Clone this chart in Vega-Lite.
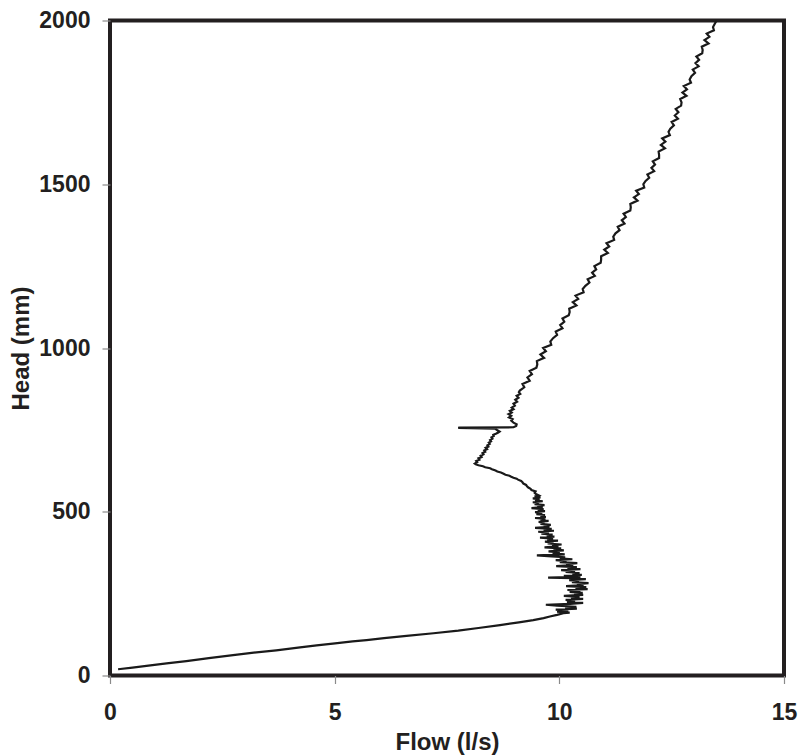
{
  "$schema": "https://vega.github.io/schema/vega-lite/v6.json",
  "width": 674,
  "height": 655,
  "autosize": {"type": "none"},
  "padding": {"left": 110, "top": 20.5, "right": 14, "bottom": 79.5},
  "background": "white",
  "config": {
    "view": {"stroke": "#231f20", "strokeWidth": 4},
    "font": "Liberation Sans",
    "axis": {
      "domain": false,
      "grid": false,
      "tickColor": "#8a8a8a",
      "tickWidth": 1.2,
      "tickSize": 8,
      "labelFont": "Liberation Sans",
      "labelFontWeight": "bold",
      "labelFontSize": 23,
      "labelColor": "#231f20",
      "titleFont": "Liberation Sans",
      "titleFontWeight": "bold",
      "titleFontSize": 24,
      "titleColor": "#231f20"
    }
  },
  "data": {
    "values": [
      {"f":0.18,"h":19},{"f":0.5,"h":24},{"f":0.9,"h":31},{"f":1.26,"h":37},{"f":1.7,"h":44},{"f":2.2,"h":53},{"f":2.74,"h":62},{"f":3.2,"h":70},{"f":3.7,"h":77},{"f":4.23,"h":86},{"f":4.6,"h":92},{"f":5.01,"h":98},{"f":5.4,"h":104},{"f":5.71,"h":108},{"f":6.1,"h":114},{"f":6.6,"h":121},{"f":7.2,"h":129},{"f":7.75,"h":137},{"f":8.2,"h":145},{"f":8.68,"h":154},{"f":9.1,"h":162},{"f":9.42,"h":169},{"f":9.65,"h":175},{"f":9.79,"h":180},{"f":9.95,"h":185},{"f":10.09,"h":190},
      {"f":10.23,"h":192},{"f":9.95,"h":195},{"f":10.2,"h":198},{"f":9.92,"h":201},{"f":10.39,"h":204},{"f":10.13,"h":207},{"f":10.38,"h":210},{"f":9.95,"h":213},{"f":9.7,"h":216},{"f":10.24,"h":219},{"f":10.53,"h":222},{"f":10.17,"h":225},{"f":10.35,"h":228},{"f":10.14,"h":231},{"f":10.53,"h":234},{"f":10.26,"h":237},{"f":10.45,"h":240},{"f":10.1,"h":243},{"f":10.53,"h":246},{"f":10.33,"h":249},{"f":10.52,"h":252},{"f":10.23,"h":255},{"f":10.47,"h":258},{"f":10.18,"h":261},{"f":10.63,"h":264},{"f":10.36,"h":267},{"f":10.6,"h":270},{"f":10.15,"h":273},{"f":10.54,"h":276},{"f":10.39,"h":279},{"f":10.65,"h":282},{"f":10.28,"h":285},{"f":10.44,"h":288},{"f":10.22,"h":291},{"f":10.59,"h":294},{"f":10.31,"h":297},{"f":9.75,"h":299},{"f":10.47,"h":301},{"f":10.1,"h":304},{"f":10.5,"h":307},{"f":10.29,"h":310},{"f":10.45,"h":313},{"f":10.14,"h":316},{"f":10.35,"h":319},{"f":10.04,"h":322},{"f":10.47,"h":325},{"f":10.18,"h":328},{"f":10.39,"h":331},{"f":9.93,"h":334},{"f":10.31,"h":337},{"f":10.15,"h":340},{"f":10.4,"h":343},{"f":10.01,"h":346},{"f":10.16,"h":349},{"f":9.92,"h":352},{"f":10.29,"h":355},{"f":10.01,"h":358},{"f":10.13,"h":361},{"f":9.83,"h":364},{"f":9.5,"h":367},{"f":10.12,"h":370},{"f":9.85,"h":373},{"f":10.01,"h":376},{"f":9.76,"h":379},{"f":10.1,"h":382},{"f":9.87,"h":385},{"f":10.04,"h":388},{"f":9.67,"h":391},{"f":9.98,"h":394},{"f":9.84,"h":397},{"f":10.05,"h":400},{"f":9.74,"h":403},{"f":9.87,"h":406},{"f":9.68,"h":409},{"f":9.97,"h":412},{"f":9.73,"h":415},{"f":9.86,"h":418},{"f":9.57,"h":421},{"f":9.89,"h":424},{"f":9.72,"h":427},{"f":9.85,"h":430},{"f":9.6,"h":433},{"f":9.77,"h":436},{"f":9.53,"h":439},{"f":9.88,"h":442},{"f":9.65,"h":445},{"f":9.83,"h":448},{"f":9.46,"h":451},{"f":9.78,"h":454},{"f":9.65,"h":457},{"f":9.81,"h":460},{"f":9.58,"h":463},{"f":9.67,"h":466},{"f":9.54,"h":469},{"f":9.76,"h":472},{"f":9.58,"h":475},{"f":9.69,"h":478},{"f":9.46,"h":481},{"f":9.7,"h":484},{"f":9.58,"h":487},{"f":9.68,"h":490},{"f":9.49,"h":493},{"f":9.62,"h":496},{"f":9.46,"h":499},{"f":9.68,"h":502},{"f":9.52,"h":505},{"f":9.65,"h":508},{"f":9.38,"h":511},{"f":9.63,"h":514},{"f":9.51,"h":517},{"f":9.67,"h":520},{"f":9.45,"h":523},{"f":9.54,"h":526},{"f":9.41,"h":529},{"f":9.63,"h":532},{"f":9.46,"h":535},{"f":9.56,"h":538},{"f":9.41,"h":541},{"f":9.58,"h":544},{"f":9.45,"h":547},{"f":9.54,"h":550},
      {"f":9.48,"h":554},{"f":9.45,"h":558},{"f":9.47,"h":562},{"f":9.38,"h":566},{"f":9.36,"h":570},{"f":9.31,"h":574},{"f":9.28,"h":578},{"f":9.26,"h":582},{"f":9.2,"h":586},{"f":9.18,"h":590},{"f":9.15,"h":594},{"f":9.08,"h":598},{"f":9.05,"h":601},{"f":8.98,"h":604},{"f":8.93,"h":607},{"f":8.89,"h":610},{"f":8.8,"h":613},{"f":8.76,"h":616},{"f":8.7,"h":620},{"f":8.62,"h":623},{"f":8.58,"h":626},{"f":8.5,"h":630},{"f":8.46,"h":633},{"f":8.35,"h":636},{"f":8.3,"h":639},{"f":8.2,"h":642},{"f":8.14,"h":645},{"f":8.12,"h":647},
      {"f":8.17,"h":651},{"f":8.15,"h":655},{"f":8.22,"h":659},{"f":8.2,"h":663},{"f":8.27,"h":667},{"f":8.25,"h":671},{"f":8.31,"h":675},{"f":8.29,"h":679},{"f":8.35,"h":683},{"f":8.33,"h":687},{"f":8.39,"h":691},{"f":8.36,"h":695},{"f":8.42,"h":699},{"f":8.4,"h":703},{"f":8.45,"h":707},{"f":8.43,"h":711},{"f":8.48,"h":715},{"f":8.46,"h":719},{"f":8.51,"h":723},{"f":8.49,"h":727},{"f":8.54,"h":731},{"f":8.53,"h":735},{"f":8.6,"h":739},{"f":8.64,"h":742},{"f":8.67,"h":745},{"f":8.63,"h":748},{"f":8.6,"h":751},{"f":8.57,"h":754},{"f":7.75,"h":756},{"f":7.78,"h":757},
      {"f":8.98,"h":758},{"f":9.04,"h":762},{"f":9.05,"h":767},{"f":8.98,"h":772},{"f":8.93,"h":778},{"f":8.96,"h":783},{"f":8.88,"h":788},{"f":8.93,"h":793},{"f":8.87,"h":798},{"f":8.94,"h":803},{"f":8.9,"h":808},{"f":8.98,"h":813},{"f":8.94,"h":818},{"f":9.01,"h":824},{"f":8.98,"h":830},{"f":9.06,"h":836},{"f":9.02,"h":842},{"f":9.09,"h":848},{"f":9.05,"h":854},{"f":9.13,"h":860},{"f":9.1,"h":865},
      {"f":9.12,"h":870},{"f":9.22,"h":880},{"f":9.18,"h":890},{"f":9.34,"h":900},{"f":9.29,"h":910},{"f":9.39,"h":920},{"f":9.34,"h":930},{"f":9.49,"h":940},{"f":9.51,"h":950},{"f":9.5,"h":960},{"f":9.66,"h":970},{"f":9.58,"h":980},{"f":9.7,"h":990},{"f":9.64,"h":1000},{"f":9.82,"h":1010},{"f":9.8,"h":1020},{"f":9.86,"h":1030},{"f":9.95,"h":1040},{"f":9.92,"h":1050},{"f":10.07,"h":1060},{"f":10.02,"h":1070},{"f":10.11,"h":1080},{"f":10.07,"h":1090},{"f":10.21,"h":1100},{"f":10.23,"h":1110},{"f":10.22,"h":1120},{"f":10.38,"h":1130},{"f":10.3,"h":1140},{"f":10.42,"h":1150},{"f":10.36,"h":1160},{"f":10.54,"h":1170},{"f":10.52,"h":1180},{"f":10.58,"h":1190},{"f":10.67,"h":1200},{"f":10.63,"h":1210},{"f":10.79,"h":1220},{"f":10.73,"h":1230},{"f":10.82,"h":1240},{"f":10.78,"h":1250},{"f":10.92,"h":1260},{"f":10.93,"h":1270},{"f":10.93,"h":1280},{"f":11.08,"h":1290},{"f":11.0,"h":1300},{"f":11.11,"h":1310},{"f":11.05,"h":1320},{"f":11.22,"h":1330},{"f":11.2,"h":1340},{"f":11.25,"h":1350},{"f":11.34,"h":1360},{"f":11.3,"h":1370},{"f":11.45,"h":1380},{"f":11.39,"h":1390},{"f":11.48,"h":1400},{"f":11.43,"h":1410},{"f":11.58,"h":1420},{"f":11.59,"h":1430},{"f":11.58,"h":1440},{"f":11.74,"h":1450},{"f":11.66,"h":1460},{"f":11.77,"h":1470},{"f":11.71,"h":1480},{"f":11.89,"h":1490},{"f":11.87,"h":1500},{"f":11.92,"h":1510},{"f":12.0,"h":1520},{"f":11.96,"h":1530},{"f":12.11,"h":1540},{"f":12.05,"h":1550},{"f":12.13,"h":1560},{"f":12.08,"h":1570},{"f":12.22,"h":1580},{"f":12.22,"h":1590},{"f":12.21,"h":1600},{"f":12.35,"h":1610},{"f":12.26,"h":1620},{"f":12.36,"h":1630},{"f":12.29,"h":1640},{"f":12.46,"h":1650},{"f":12.43,"h":1660},{"f":12.47,"h":1670},{"f":12.55,"h":1680},{"f":12.5,"h":1690},{"f":12.64,"h":1700},{"f":12.57,"h":1710},{"f":12.65,"h":1720},{"f":12.59,"h":1730},{"f":12.71,"h":1740},{"f":12.72,"h":1750},{"f":12.69,"h":1760},{"f":12.83,"h":1770},{"f":12.74,"h":1780},{"f":12.84,"h":1790},{"f":12.77,"h":1800},{"f":12.93,"h":1810},{"f":12.9,"h":1820},{"f":12.94,"h":1830},{"f":13.02,"h":1840},{"f":12.97,"h":1850},{"f":13.1,"h":1860},{"f":13.03,"h":1870},{"f":13.11,"h":1880},{"f":13.05,"h":1890},{"f":13.18,"h":1900},{"f":13.19,"h":1910},{"f":13.17,"h":1920},{"f":13.32,"h":1930},{"f":13.23,"h":1940},{"f":13.34,"h":1950},{"f":13.28,"h":1960},{"f":13.44,"h":1970},{"f":13.42,"h":1980},{"f":13.46,"h":1990},{"f":13.5,"h":2000}
    ]
  },
  "mark": {"type": "line", "color": "#1a1a1a", "strokeWidth": 2.2, "clip": true},
  "encoding": {
    "x": {
      "field": "f", "type": "quantitative", "title": "Flow (l/s)",
      "scale": {"domain": [0, 15], "nice": false, "zero": false},
      "axis": {"values": [0, 5, 10, 15], "labelPadding": 18, "titlePadding": 6, "labelFlush": false}
    },
    "y": {
      "field": "h", "type": "quantitative", "title": "Head (mm)",
      "scale": {"domain": [0, 2000], "nice": false, "zero": false},
      "axis": {"values": [0, 500, 1000, 1500, 2000], "format": "d", "labelPadding": 12, "titlePadding": 5, "labelFlush": false}
    },
    "order": {"field": "h", "type": "quantitative"}
  }
}
